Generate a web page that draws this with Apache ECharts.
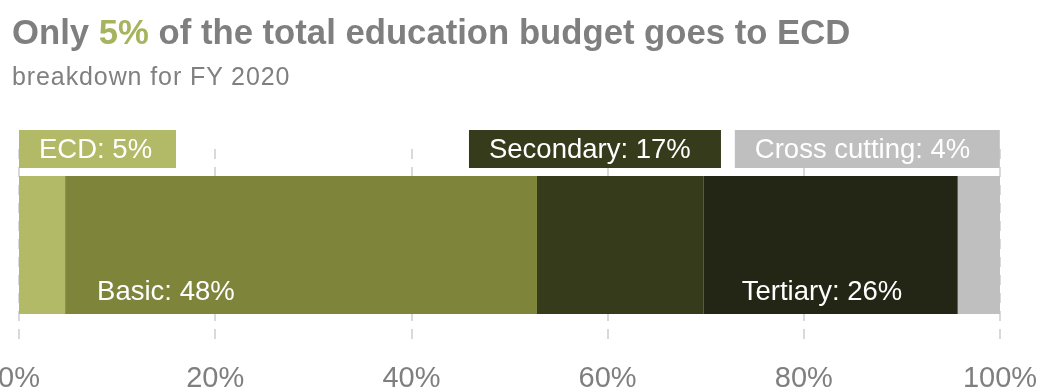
<!DOCTYPE html>
<html>
<head>
    <meta charset="utf-8"/>
    <title>ECD budget</title>
    <script src="https://cdn.jsdelivr.net/npm/echarts@6/dist/echarts.min.js"></script>
    <style>
        body { margin: 0; background: #fff; }
        #head { position: absolute; left: 12px; top: 9px; font-family: "Liberation Sans", Arial, sans-serif; z-index: 2; }
        #title { font-size: 34.7px; font-weight: bold; color: #7f7f7f; line-height: 46px; }
        #title span { color: #a7b45e; }
        #sub { font-size: 25px; color: #808080; line-height: 42px; letter-spacing: 0.9px; }
    </style>
</head>
<body>
<div id="head">
    <div id="title">Only <span>5%</span> of the total education budget goes to ECD</div>
    <div id="sub">breakdown for FY 2020</div>
</div>
<div id="main" style="width: 1037px; height: 388px"></div>
<script type="text/javascript">
    // shares of the FY 2020 education budget (%)
    var categories = ['ECD', 'Basic', 'Secondary', 'Tertiary', 'Cross cutting'];
    var values = [4.7, 48.1, 17.0, 25.9, 4.3];
    var shown = ['5%', '48%', '17%', '26%', '4%'];
    var colors = ['#b2ba68', '#7e853b', '#353b1b', '#242615', '#bfbfbf'];
    var xTicks = [0, 20, 40, 60, 80, 100];

    var myChart = echarts.init(document.getElementById('main'));

    var font = '"Liberation Sans", Arial, sans-serif';

    // label layout per segment: boxed labels above the bar or plain text inside
    var labelCfg = [
        {position: [0, -46], boxW: 157, bg: colors[0]},
        {position: [32, 101]},
        {position: [-68, -46], boxW: 252, bg: colors[2]},
        {position: [38, 101]},
        {position: [-223, -46], boxW: 265, bg: colors[4]}
    ];

    var series = categories.map(function (name, i) {
        var c = labelCfg[i];
        var label = {
            show: true,
            position: c.position,
            formatter: name + ': ' + shown[i],
            color: '#fff',
            fontFamily: font,
            fontSize: 27.5,
            align: 'left',
            verticalAlign: 'top'
        };
        if (c.bg) {
            label.backgroundColor = c.bg;
            label.padding = [3, 0, 0, 20];
            label.width = c.boxW - 20;
            label.height = 35;
            label.lineHeight = 35;
        } else {
            label.lineHeight = 30;
        }
        return {
            name: name,
            type: 'bar',
            stack: 'total',
            barWidth: 138,
            itemStyle: {color: colors[i]},
            label: label,
            data: [values[i]]
        };
    });

    var option = {
        animation: false,
        grid: {left: 19, right: 37, top: 149, bottom: 47, outerBoundsMode: 'none', containLabel: false},
        xAxis: {
            type: 'value',
            min: xTicks[0],
            max: xTicks[xTicks.length - 1],
            interval: 20,
            axisLine: {show: false},
            axisTick: {show: false},
            splitLine: {
                show: true,
                lineStyle: {color: '#d9d9d9', width: 2, type: [10, 8]}
            },
            axisLabel: {
                formatter: '{value}%',
                color: '#7f7f7f',
                fontFamily: font,
                fontSize: 29,
                margin: 23
            }
        },
        yAxis: {
            type: 'category',
            data: ['FY 2020'],
            show: false
        },
        series: series
    };

    myChart.setOption(option);
</script>
</body>
</html>
